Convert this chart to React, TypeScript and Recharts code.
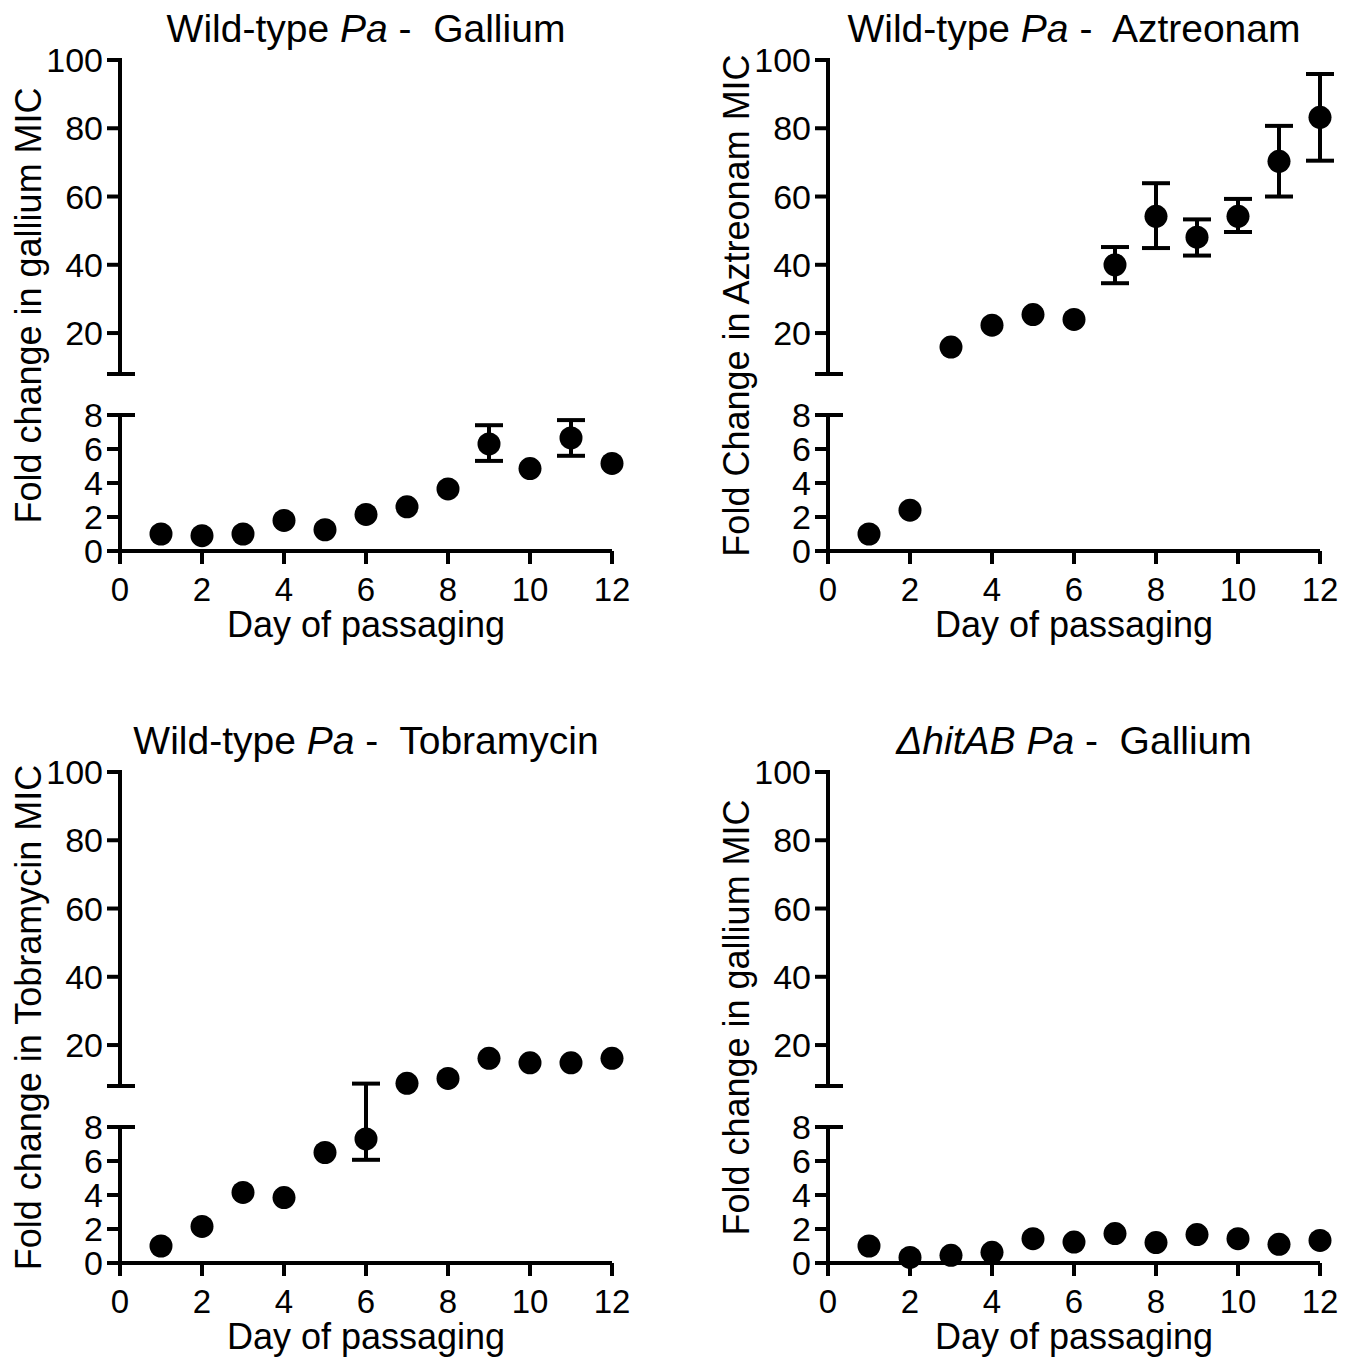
import React from 'react';
import { ScatterChart, Scatter, XAxis, YAxis, ErrorBar, ReferenceLine } from 'recharts';

// ---------- data ----------
const days = [1, 2, 3, 4, 5, 6, 7, 8, 9, 10, 11, 12];
const xTicks = [0, 2, 4, 6, 8, 10, 12];
const lowerTicks = [0, 2, 4, 6, 8];
const upperTicks = [20, 40, 60, 80, 100];

const galliumWT = [1.0, 0.9, 1.0, 1.8, 1.25, 2.15, 2.6, 3.65, 6.3, 4.85, 6.65, 5.15];
const galliumWTErr = [null, null, null, null, null, null, null, null, [1.0, 1.1], null, [1.05, 1.05], null];

const aztreonamWT = [1.0, 2.4, 15.9, 22.3, 25.4, 24.0, 40.0, 54.2, 48.1, 54.2, 70.3, 83.2];
const aztreonamWTErr = [null, null, null, null, null, null, [5.4, 5.2], [9.3, 9.7], [5.4, 5.2], [4.6, 5.1], [10.3, 10.4], [12.7, 12.7]];

const tobramycinWT = [1.0, 2.15, 4.15, 3.85, 6.5, 7.3, 8.8, 10.2, 16.1, 14.8, 14.8, 16.1];
const tobramycinWTErr = [null, null, null, null, null, [1.23, 1.4], null, null, null, null, null, null];

const galliumHitAB = [1.0, 0.33, 0.45, 0.63, 1.43, 1.23, 1.73, 1.2, 1.67, 1.43, 1.1, 1.33];
const galliumHitABErr = [null, null, null, null, null, null, null, null, null, null, null, null];

// ---------- broken y scale (0-8 lower segment, 8-100 upper segment) ----------
const BREAK = 8;
const Y_MAX = 100;
const UPPER_START = 8.0001;
const LOWER_SHARE = 136 / 491;
const GAP_SHARE = 41 / 491;
const UPPER_SHARE = 314 / 491;
const yTicks = [...lowerTicks, UPPER_START, ...upperTicks];

function brokenScale(): any {
  let dom: number[] = [0, Y_MAX];
  let rng: number[] = [0, 1];
  const s: any = (v: any) => {
    const n = Number(v);
    const t =
      n <= BREAK
        ? ((n - dom[0]) / (BREAK - dom[0])) * LOWER_SHARE
        : LOWER_SHARE + GAP_SHARE + ((n - BREAK) / (dom[1] - BREAK)) * UPPER_SHARE;
    return rng[0] + t * (rng[1] - rng[0]);
  };
  s.domain = (d?: any) => {
    if (d === undefined) return dom.slice();
    dom = [Number(d[0]), Number(d[d.length - 1])];
    return s;
  };
  s.range = (r?: any) => {
    if (r === undefined) return rng.slice();
    rng = [Number(r[0]), Number(r[r.length - 1])];
    return s;
  };
  s.copy = () => brokenScale().domain(dom).range(rng);
  s.ticks = () => yTicks;
  s.tickFormat = () => (v: number) => String(v);
  s.nice = () => s;
  s.clamp = () => s;
  s.invert = (p: number) => {
    const t = (p - rng[0]) / (rng[1] - rng[0]);
    if (t <= LOWER_SHARE) return dom[0] + (t / LOWER_SHARE) * (BREAK - dom[0]);
    return BREAK + ((t - LOWER_SHARE - GAP_SHARE) / UPPER_SHARE) * (dom[1] - BREAK);
  };
  return s;
}
const yScale = brokenScale();

// ---------- styling ----------
const FONT = "'Liberation Sans', Arial, Helvetica, sans-serif";
const TICK_SIZE = 13;
const Y_TICK_MARGIN = 4;
const CAP_EXT = 15;
const LW = 4;

function YTick(props: any) {
  const { x, y, payload } = props;
  const v = payload.value;
  const axisX = x + TICK_SIZE + Y_TICK_MARGIN;
  const isCap = v === BREAK || v === UPPER_START;
  return (
    <g>
      {isCap && <line x1={axisX} x2={axisX + CAP_EXT} y1={y} y2={y} stroke="#000" strokeWidth={LW} />}
      {v !== UPPER_START && (
        <text x={x} y={y} dy="0.355em" textAnchor="end" fontSize={34} fill="#000">
          {v}
        </text>
      )}
    </g>
  );
}

function DotShape(props: any) {
  const { cx, cy } = props;
  if (cx == null || cy == null) return null;
  return <circle cx={cx} cy={cy} r={11.5} fill="#000" />;
}

function Panel({ left, top, yLabel, values, errors }: any) {
  const data = days.map((d, i) => ({ day: d, value: values[i], err: errors[i] }));
  return (
    <div style={{ position: 'absolute', left, top }}>
      <ScatterChart width={678} height={700} margin={{ top: 60, right: 66, bottom: 49, left: 20 }}>
        <XAxis
          type="number"
          dataKey="day"
          domain={[0, 12]}
          ticks={xTicks}
          interval={0}
          height={100}
          tickSize={TICK_SIZE}
          tickMargin={14}
          axisLine={{ stroke: '#000', strokeWidth: LW }}
          tickLine={{ stroke: '#000', strokeWidth: LW }}
          tick={{ fontSize: 33, fill: '#000' }}
          label={{ value: 'Day of passaging', position: 'insideBottom', offset: 14, fontSize: 36, fill: '#000' }}
        />
        <YAxis
          type="number"
          dataKey="value"
          scale={yScale}
          domain={[0, Y_MAX]}
          ticks={yTicks}
          interval={0}
          width={100}
          axisLine={false}
          tickSize={TICK_SIZE}
          tickMargin={Y_TICK_MARGIN}
          tickLine={{ stroke: '#000', strokeWidth: LW }}
          tick={YTick}
          label={{
            value: yLabel,
            angle: -90,
            position: 'insideLeft',
            offset: 8,
            fontSize: 36,
            fill: '#000',
            style: { textAnchor: 'middle' },
          }}
        />
        <ReferenceLine
          segment={[{ x: 0, y: 0 }, { x: 0, y: BREAK }]}
          stroke="#000"
          strokeWidth={LW}
          strokeLinecap="square"
          ifOverflow="visible"
        />
        <ReferenceLine
          segment={[{ x: 0, y: UPPER_START }, { x: 0, y: Y_MAX }]}
          stroke="#000"
          strokeWidth={LW}
          strokeLinecap="square"
          ifOverflow="visible"
        />
        <Scatter data={data} dataKey="value" fill="#000" shape={DotShape} isAnimationActive={false}>
          <ErrorBar dataKey="err" direction="y" width={14} strokeWidth={LW} stroke="#000" isAnimationActive={false} />
        </Scatter>
      </ScatterChart>
    </div>
  );
}

const PANEL_X = [0, 708];
const PANEL_Y = [0, 712];

export default function App() {
  const titleStyle: any = { whiteSpace: 'pre' };
  return (
    <div
      style={{
        position: 'absolute',
        left: 0,
        top: 0,
        width: 1356,
        height: 1357,
        background: '#fff',
        fontFamily: FONT,
        overflow: 'hidden',
      }}
    >
      <Panel left={PANEL_X[0]} top={PANEL_Y[0]} yLabel="Fold change in gallium MIC" values={galliumWT} errors={galliumWTErr} />
      <Panel left={PANEL_X[1]} top={PANEL_Y[0]} yLabel="Fold Change in Aztreonam MIC" values={aztreonamWT} errors={aztreonamWTErr} />
      <Panel left={PANEL_X[0]} top={PANEL_Y[1]} yLabel="Fold change in Tobramycin MIC" values={tobramycinWT} errors={tobramycinWTErr} />
      <Panel left={PANEL_X[1]} top={PANEL_Y[1]} yLabel="Fold change in gallium MIC" values={galliumHitAB} errors={galliumHitABErr} />
      <svg width={1356} height={1357} style={{ position: 'absolute', left: 0, top: 0, pointerEvents: 'none' }}>
        <g fontSize={39} fill="#000" textAnchor="middle" style={titleStyle}>
          <text x={PANEL_X[0] + 366} y={PANEL_Y[0] + 42} style={titleStyle}>
            Wild-type <tspan fontStyle="italic">Pa</tspan>{' -  Gallium'}
          </text>
          <text x={PANEL_X[1] + 366} y={PANEL_Y[0] + 42} style={titleStyle}>
            Wild-type <tspan fontStyle="italic">Pa</tspan>{' -  Aztreonam'}
          </text>
          <text x={PANEL_X[0] + 366} y={PANEL_Y[1] + 42} style={titleStyle}>
            Wild-type <tspan fontStyle="italic">Pa</tspan>{' -  Tobramycin'}
          </text>
          <text x={PANEL_X[1] + 366} y={PANEL_Y[1] + 42} style={titleStyle}>
            <tspan fontStyle="italic">ΔhitAB Pa</tspan>{' -  Gallium'}
          </text>
        </g>
      </svg>
    </div>
  );
}
